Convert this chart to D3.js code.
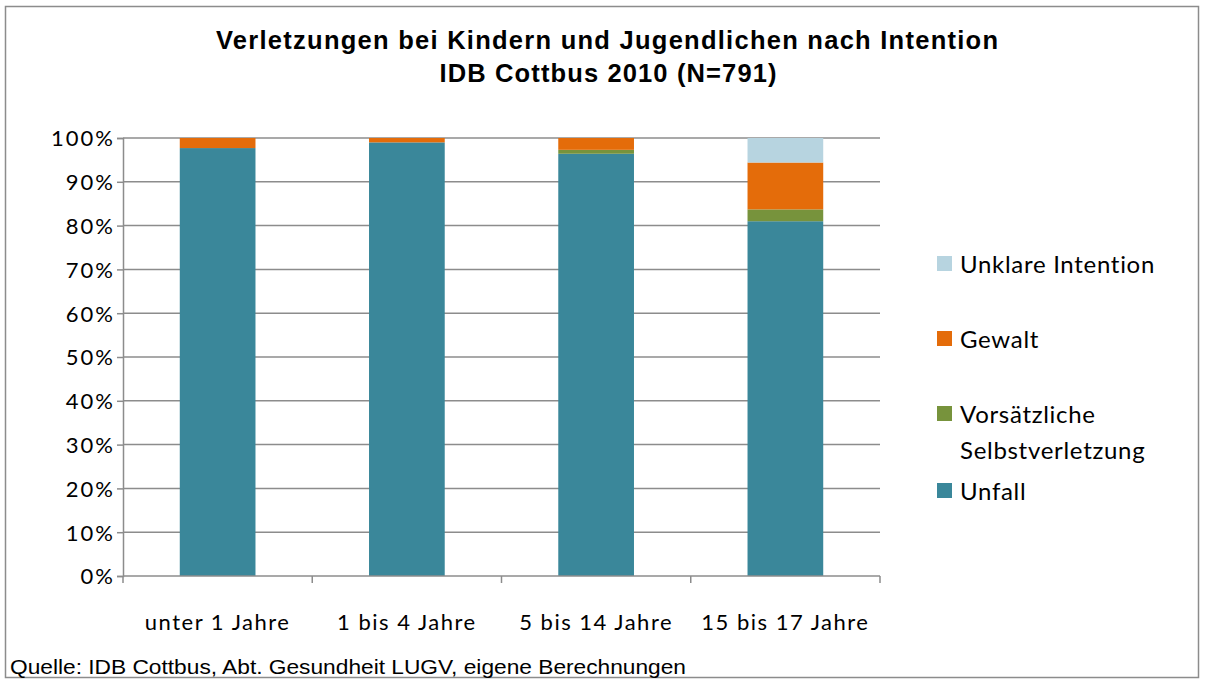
<!DOCTYPE html>
<html>
<head>
<meta charset="utf-8">
<script src="https://cdn.jsdelivr.net/npm/d3@7"></script>
<style>
  body { margin: 0; background: #fff; }
  svg { display: block; }
</style>
</head>
<body>
<svg id="canvas" width="1205" height="684"></svg>
<script>
let categories = ['unter 1 Jahre', '1 bis 4 Jahre', '5 bis 14 Jahre', '15 bis 17 Jahre']
let series = ['Unfall', 'Vorsätzliche Selbstverletzung', 'Gewalt', 'Unklare Intention']
let unfall = [97.7, 99.0, 96.4, 81.0]
let selbst = [0.0, 0.0, 0.9, 2.7]
let gewalt = [2.3, 1.0, 2.7, 10.7]
let unklar = [0.0, 0.0, 0.0, 5.6]
let colors = ['#3A879A', '#77933C', '#E46C0A', '#B7D4E0']
let yTicks = [0, 10, 20, 30, 40, 50, 60, 70, 80, 90, 100]

let rows = categories.map((c, i) => ({
  cat: c, 'Unfall': unfall[i], 'Vorsätzliche Selbstverletzung': selbst[i],
  'Gewalt': gewalt[i], 'Unklare Intention': unklar[i]
}))

let canvas = d3.select('#canvas')
let font = 'Lato, "Open Sans", sans-serif'

canvas.append('rect')
  .attr('x', 5.5).attr('y', 6.5).attr('width', 1193).attr('height', 671)
  .attr('fill', '#fff').attr('stroke', '#8c8c8c').attr('stroke-width', 1.5)

let title = canvas.append('text')
  .attr('text-anchor', 'middle')
  .attr('font-family', 'Arial, "Liberation Sans", sans-serif')
  .attr('font-weight', 'bold').attr('font-size', 25.5).attr('fill', '#000')
title.append('tspan').attr('x', 607).attr('y', 49)
  .attr('textLength', 782).attr('lengthAdjust', 'spacing')
  .text('Verletzungen bei Kindern und Jugendlichen nach Intention')
title.append('tspan').attr('x', 608).attr('y', 82)
  .attr('textLength', 337).attr('lengthAdjust', 'spacing')
  .text('IDB Cottbus 2010 (N=791)')

let x = d3.scaleBand().domain(categories).range([123, 880]).paddingInner(0.6).paddingOuter(0.3)
let y = d3.scaleLinear().domain([0, 100]).range([576, 138])

// gridlines
canvas.append('g').selectAll('line')
  .data(yTicks.filter(t => t > 0))
  .enter().append('line')
  .attr('x1', 123).attr('x2', 880)
  .attr('y1', d => y(d)).attr('y2', d => y(d))
  .attr('stroke', '#8c8c8c').attr('stroke-width', 1.5)

let stack = d3.stack().keys(series)(rows)
canvas.append('g').selectAll('g')
  .data(stack)
  .enter().append('g')
  .attr('fill', (d, i) => colors[i])
  .selectAll('rect')
  .data(d => d)
  .enter().append('rect')
  .attr('x', d => x(d.data.cat))
  .attr('width', x.bandwidth())
  .attr('y', d => y(d[1]))
  .attr('height', d => y(d[0]) - y(d[1]))

// y axis
let yAxis = canvas.append('g')
  .attr('transform', 'translate(123,0)')
  .call(d3.axisLeft(y).tickValues(yTicks).tickFormat(d => d + '%').tickSize(6).tickPadding(2))
yAxis.selectAll('text').attr('font-family', font).attr('font-size', 22)
  .attr('letter-spacing', 2).attr('fill', '#000').attr('dy', '0.36em')
yAxis.selectAll('line').attr('stroke', '#8c8c8c').attr('stroke-width', 1.5)
yAxis.select('.domain').attr('stroke', '#8c8c8c').attr('stroke-width', 1.5)

// x axis
let xPos = d3.scalePoint().domain(d3.range(categories.length + 1)).range([123, 880])
let xAxis = canvas.append('g').attr('transform', 'translate(0,576)')
xAxis.append('line').attr('x1', 123).attr('x2', 880)
  .attr('stroke', '#8c8c8c').attr('stroke-width', 1.5)
xAxis.selectAll('.tk').data(d3.range(categories.length + 1)).enter().append('line')
  .attr('x1', d => xPos(d)).attr('x2', d => xPos(d)).attr('y1', 0).attr('y2', 7)
  .attr('stroke', '#8c8c8c').attr('stroke-width', 1.5)
xAxis.selectAll('text').data(categories).enter().append('text')
  .attr('x', d => x(d) + x.bandwidth() / 2).attr('y', 54)
  .attr('text-anchor', 'middle')
  .attr('font-family', font).attr('font-size', 22).attr('letter-spacing', 1.5).attr('fill', '#000')
  .text(d => d)

// legend
let legend = [
  { name: ['Unklare Intention'], color: colors[3], y: 264 },
  { name: ['Gewalt'], color: colors[2], y: 339 },
  { name: ['Vorsätzliche', 'Selbstverletzung'], color: colors[1], y: 414 },
  { name: ['Unfall'], color: colors[0], y: 491 }
]
let lg = canvas.append('g').selectAll('g').data(legend).enter().append('g')
lg.append('rect')
  .attr('x', 937).attr('y', d => d.y - 8).attr('width', 15).attr('height', 15)
  .attr('fill', d => d.color)
lg.append('text')
  .attr('font-family', font).attr('font-size', 24).attr('letter-spacing', 0.7).attr('fill', '#000')
  .selectAll('tspan').data(d => d.name.map((n, i) => ({ n, i, y: d.y })))
  .enter().append('tspan')
  .attr('x', 960).attr('y', d => d.y + 9 + d.i * 36)
  .text(d => d.n)

canvas.append('text')
  .attr('x', 10).attr('y', 674)
  .attr('font-family', 'Arial, "Liberation Sans", sans-serif')
  .attr('font-size', 21).attr('fill', '#000')
  .attr('textLength', 676).attr('lengthAdjust', 'spacingAndGlyphs')
  .text('Quelle:  IDB Cottbus, Abt. Gesundheit LUGV, eigene Berechnungen')
</script>
</body>
</html>
